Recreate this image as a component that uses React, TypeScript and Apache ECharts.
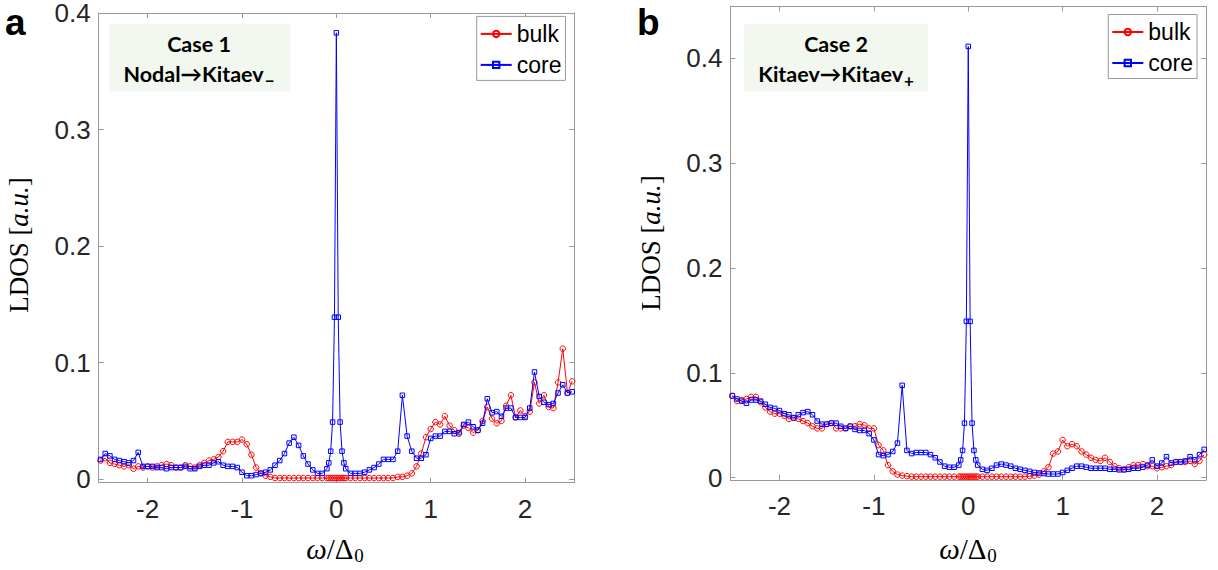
import React, { useEffect, useRef } from 'react';
import * as echarts from 'echarts';

// energy grid ω/Δ0 (coarse 0.05 steps, finer near zero)
const xs = [
  -2.5, -2.45, -2.4, -2.35, -2.3, -2.25, -2.2, -2.15, -2.1, -2.05,
  -2, -1.95, -1.9, -1.85, -1.8, -1.75, -1.7, -1.65, -1.6, -1.55,
  -1.5, -1.45, -1.4, -1.35, -1.3, -1.25, -1.2, -1.15, -1.1, -1.05,
  -1, -0.95, -0.9, -0.85, -0.8, -0.75, -0.7, -0.65, -0.6, -0.55,
  -0.5, -0.45, -0.4, -0.35, -0.3, -0.25, -0.2, -0.15,
  -0.1, -0.08, -0.06, -0.04, -0.02, 0, 0.02, 0.04, 0.06, 0.08, 0.1,
  0.15, 0.2, 0.25, 0.3, 0.35, 0.4, 0.45, 0.5, 0.55, 0.6,
  0.65, 0.7, 0.75, 0.8, 0.85, 0.9, 0.95, 1, 1.05, 1.1,
  1.15, 1.2, 1.25, 1.3, 1.35, 1.4, 1.45, 1.5, 1.55, 1.6,
  1.65, 1.7, 1.75, 1.8, 1.85, 1.9, 1.95, 2, 2.05, 2.1,
  2.15, 2.2, 2.25, 2.3, 2.35, 2.4, 2.45, 2.5,
];

// Panel a (Case 1)
const bulkA = [
  0.016, 0.018, 0.014, 0.013, 0.012, 0.011, 0.012, 0.009, 0.011, 0.010,
  0.011, 0.010, 0.011, 0.012, 0.013, 0.012, 0.010, 0.010, 0.012, 0.011,
  0.010, 0.012, 0.014, 0.016, 0.017, 0.019, 0.024, 0.032, 0.032, 0.032,
  0.034, 0.030, 0.021, 0.010, 0.005, 0.003, 0.002, 0.001, 0.001, 0.001,
  0.001, 0.001, 0.001, 0.001, 0.001, 0.001, 0.001, 0.001,
  0.001, 0.001, 0.001, 0.001, 0.001, 0.001, 0.001, 0.001, 0.001, 0.001, 0.001,
  0.001, 0.001, 0.001, 0.001, 0.001, 0.001, 0.001, 0.001, 0.001, 0.001,
  0.002, 0.002, 0.003, 0.005, 0.011, 0.022, 0.036, 0.043, 0.049, 0.047,
  0.054, 0.046, 0.042, 0.039, 0.046, 0.044, 0.040, 0.042, 0.050, 0.062,
  0.052, 0.048, 0.050, 0.063, 0.072, 0.053, 0.059, 0.054, 0.058, 0.083,
  0.065, 0.072, 0.062, 0.061, 0.083, 0.112, 0.074, 0.084,
];
const coreA = [
  0.017, 0.022, 0.020, 0.017, 0.016, 0.015, 0.014, 0.016, 0.023, 0.011,
  0.011, 0.011, 0.010, 0.010, 0.009, 0.010, 0.010, 0.010, 0.011, 0.009,
  0.009, 0.011, 0.012, 0.012, 0.014, 0.015, 0.012, 0.011, 0.011, 0.010,
  0.006, 0.003, 0.003, 0.004, 0.005, 0.006, 0.008, 0.012, 0.016, 0.022,
  0.031, 0.036, 0.029, 0.020, 0.013, 0.008, 0.005, 0.005,
  0.009, 0.014, 0.024, 0.049, 0.139, 0.383, 0.139, 0.049, 0.024, 0.014, 0.009,
  0.005, 0.005, 0.005, 0.006, 0.008, 0.010, 0.013, 0.017, 0.017, 0.017,
  0.024, 0.072, 0.037, 0.024, 0.018, 0.018, 0.021, 0.035, 0.037, 0.037,
  0.041, 0.041, 0.039, 0.040, 0.047, 0.049, 0.045, 0.042, 0.048, 0.069,
  0.057, 0.058, 0.054, 0.061, 0.061, 0.053, 0.053, 0.053, 0.061, 0.092,
  0.071, 0.066, 0.064, 0.065, 0.074, 0.081, 0.074, 0.075,
];

// Panel b (Case 2)
const bulkB = [
  0.078, 0.073, 0.074, 0.075, 0.077, 0.077, 0.072, 0.067, 0.063, 0.061,
  0.061, 0.059, 0.056, 0.057, 0.056, 0.054, 0.052, 0.049, 0.047, 0.047,
  0.051, 0.052, 0.047, 0.047, 0.047, 0.049, 0.049, 0.051, 0.050, 0.047,
  0.047, 0.031, 0.026, 0.012, 0.006, 0.003, 0.002, 0.0015, 0.001, 0.001,
  0.001, 0.001, 0.001, 0.001, 0.001, 0.001, 0.001, 0.001,
  0.001, 0.001, 0.001, 0.001, 0.001, 0.001, 0.001, 0.001, 0.001, 0.001, 0.001,
  0.001, 0.001, 0.001, 0.001, 0.001, 0.001, 0.001, 0.001, 0.001, 0.001,
  0.0015, 0.002, 0.003, 0.006, 0.010, 0.023, 0.025, 0.036, 0.030, 0.032,
  0.030, 0.025, 0.022, 0.019, 0.017, 0.016, 0.019, 0.015, 0.011, 0.009,
  0.008, 0.010, 0.012, 0.012, 0.013, 0.011, 0.011, 0.009, 0.010, 0.011,
  0.012, 0.015, 0.015, 0.015, 0.016, 0.013, 0.016, 0.022,
];
const coreB = [
  0.078, 0.075, 0.073, 0.071, 0.074, 0.074, 0.073, 0.070, 0.067, 0.066,
  0.064, 0.061, 0.060, 0.057, 0.060, 0.062, 0.063, 0.060, 0.054, 0.051,
  0.051, 0.052, 0.052, 0.049, 0.047, 0.049, 0.046, 0.045, 0.045, 0.042,
  0.036, 0.022, 0.021, 0.022, 0.025, 0.033, 0.088, 0.026, 0.023, 0.024,
  0.024, 0.024, 0.022, 0.019, 0.015, 0.011, 0.010, 0.010,
  0.012, 0.017, 0.026, 0.052, 0.149, 0.411, 0.149, 0.052, 0.026, 0.017, 0.012,
  0.008, 0.007, 0.009, 0.012, 0.013, 0.012, 0.011, 0.009, 0.008, 0.007,
  0.006, 0.005, 0.0045, 0.004, 0.0035, 0.0035, 0.0035, 0.005, 0.007, 0.009,
  0.011, 0.011, 0.010, 0.009, 0.009, 0.009, 0.009, 0.008, 0.008, 0.0075,
  0.0075, 0.008, 0.009, 0.009, 0.010, 0.012, 0.017, 0.011, 0.014, 0.020,
  0.014, 0.015, 0.015, 0.016, 0.020, 0.017, 0.022, 0.027,
];

const xTicks = [-2, -1, 0, 1, 2];
const yTicks = [0, 0.1, 0.2, 0.3, 0.4];
const seriesNames = ['bulk', 'core'];
const panelLetters = ['a', 'b'];
const caseTitles = ['Case 1', 'Case 2'];
const caseFrom = ['Nodal→Kitaev', 'Kitaev→Kitaev'];
const caseSub = ['−', '+'];

const RED = '#ff0000';
const BLUE = '#0000ff';
const AXIS = '#9a9a9a';
const LABEL = '#262626';
const SANS = 'Liberation Sans, Arial, sans-serif';
const SERIF = 'Liberation Serif, Times New Roman, serif';

const pairs = (vals: number[]) => xs.map((x, i) => [x, vals[i]]);

export default function App() {
  const ref = useRef<HTMLDivElement>(null);

  useEffect(() => {
    if (!ref.current) return;
    const chart = echarts.init(ref.current, undefined, { renderer: 'svg' });

    const grids = [
      { left: 98.6, top: 8, width: 475.5, height: 474.7 },
      { left: 730.4, top: 6.5, width: 475.7, height: 473.3 },
    ];
    const yMax = [0.4, 0.449];
    const yMin = [-0.003, -0.002];

    const xAxes: any[] = [];
    const yAxes: any[] = [];
    grids.forEach((_, gi) => {
      const common = {
        type: 'value',
        gridIndex: gi,
        axisLine: { show: true, onZero: false, lineStyle: { color: AXIS, width: 1 } },
        splitLine: { show: false },
      };
      const labelCommon = {
        fontSize: 26,
        fontFamily: SANS,
        color: LABEL,
      };
      xAxes.push({
        ...common,
        position: 'bottom',
        min: -2.52,
        max: 2.52,
        axisTick: { show: true, inside: true, length: 5, customValues: xTicks, lineStyle: { color: AXIS } },
        axisLabel: {
          ...labelCommon,
          show: true,
          customValues: xTicks,
          margin: 13,
          formatter: (v: number) => String(v),
        },
      });
      xAxes.push({
        ...common,
        position: 'top',
        min: -2.52,
        max: 2.52,
        axisTick: { show: true, inside: true, length: 5, customValues: xTicks, lineStyle: { color: AXIS } },
        axisLabel: { show: false },
      });
      yAxes.push({
        ...common,
        position: 'left',
        min: yMin[gi],
        max: yMax[gi],
        axisTick: { show: true, inside: true, length: 5, customValues: yTicks, lineStyle: { color: AXIS } },
        axisLabel: {
          ...labelCommon,
          show: true,
          customValues: yTicks,
          margin: 8,
          formatter: (v: number) => (v === 0 ? '0' : String(Math.round(v * 10) / 10)),
        },
      });
      yAxes.push({
        ...common,
        position: 'right',
        min: yMin[gi],
        max: yMax[gi],
        axisTick: { show: true, inside: true, length: 5, customValues: yTicks, lineStyle: { color: AXIS } },
        axisLabel: { show: false },
      });
    });

    const mk = (name: string, vals: number[], gi: number, color: string, symbol: string, size: number) => ({
      name,
      type: 'line',
      xAxisIndex: gi * 2,
      yAxisIndex: gi * 2,
      data: pairs(vals),
      symbol,
      symbolSize: size,
      showAllSymbol: true,
      color,
      lineStyle: { color, width: 1 },
      itemStyle: { color: 'rgba(255,255,255,0)', borderColor: color, borderWidth: 1 },
      emphasis: { disabled: true },
      z: color === BLUE ? 3 : 2,
    });

    const series = [
      mk('bulk', bulkA, 0, RED, 'circle', 5.5),
      mk('core', coreA, 0, BLUE, 'rect', 4.5),
      mk('bulk', bulkB, 1, RED, 'circle', 5.5),
      mk('core', coreB, 1, BLUE, 'rect', 4.5),
    ];

    const legendCommon = {
      orient: 'vertical',
      itemWidth: 31,
      itemHeight: 8,
      itemGap: 8,
      padding: [6, 4, 4, 3],
      borderColor: AXIS,
      borderWidth: 1,
      backgroundColor: '#ffffff',
      selectedMode: false,
      textStyle: { fontSize: 23, fontFamily: SANS, color: '#000' },
      data: seriesNames,
    };
    const legend = [
      { ...legendCommon, left: 476.7, top: 16.4 },
      { ...legendCommon, left: 1108.3, top: 14.5 },
    ];

    const boxes = [
      { x: 108.9, y: 24, w: 181.8, h: 67.6, cx: 199 },
      { x: 744.2, y: 24, w: 183.6, h: 67.6, cx: 836 },
    ];
    const annFont = 'Lato, Open Sans, sans-serif';
    const graphic: any[] = [];
    boxes.forEach((b, i) => {
      graphic.push({
        type: 'rect',
        shape: { x: b.x, y: b.y, width: b.w, height: b.h },
        style: { fill: '#f2f7ef' },
        z: 1,
      });
      graphic.push({
        type: 'text',
        x: b.cx,
        y: 44,
        z: 5,
        style: {
          text: caseTitles[i],
          fontSize: 21.5,
          fontWeight: 'bold',
          fontFamily: annFont,
          fill: '#000',
          textAlign: 'center',
          textVerticalAlign: 'middle',
          align: 'center',
          verticalAlign: 'middle',
        },
      });
      graphic.push({
        type: 'text',
        x: b.cx,
        y: 74,
        z: 5,
        style: {
          text: `{m|${caseFrom[i]}}{s|${caseSub[i]}}`,
          fill: '#000',
          textAlign: 'center',
          textVerticalAlign: 'middle',
          align: 'center',
          verticalAlign: 'middle',
          rich: {
            m: { fontSize: 21.5, fontWeight: 'bold', fontFamily: annFont, fill: '#000' },
            s: { fontSize: 17, fontWeight: 'bold', fontFamily: annFont, fill: '#000', padding: [12, 0, 0, 1] },
          },
        },
      });
    });

    // panel letters
    const letterX = [5, 637];
    panelLetters.forEach((l, i) => {
      graphic.push({
        type: 'text',
        x: letterX[i],
        y: 22,
        z: 5,
        style: {
          text: l,
          fontSize: 37,
          fontWeight: 'bold',
          fontFamily: SANS,
          fill: '#000',
          textAlign: 'left',
          textVerticalAlign: 'middle',
          align: 'left',
          verticalAlign: 'middle',
        },
      });
    });

    // axis names
    const yNameX = [19, 651];
    const yNameY = [245, 243];
    const xNameX = [335, 968];
    [0, 1].forEach((i) => {
      graphic.push({
        type: 'text',
        x: yNameX[i],
        y: yNameY[i],
        rotation: Math.PI / 2,
        z: 5,
        style: {
          text: '{r|LDOS [}{i|a.u.}{r|]}',
          fill: '#000',
          textAlign: 'center',
          textVerticalAlign: 'middle',
          align: 'center',
          verticalAlign: 'middle',
          rich: {
            r: { fontSize: 27, fontFamily: SERIF, fill: '#000' },
            i: { fontSize: 27, fontFamily: SERIF, fontStyle: 'italic', fill: '#000' },
          },
        },
      });
      graphic.push({
        type: 'text',
        x: xNameX[i],
        y: 549,
        z: 5,
        style: {
          text: '{i|ω}{r|/Δ}{s|0}',
          fill: '#000',
          textAlign: 'center',
          textVerticalAlign: 'middle',
          align: 'center',
          verticalAlign: 'middle',
          rich: {
            i: { fontSize: 29, fontFamily: SERIF, fontStyle: 'italic', fill: '#000' },
            r: { fontSize: 29, fontFamily: SERIF, fill: '#000' },
            s: { fontSize: 19, fontFamily: SERIF, fill: '#000', padding: [12, 0, 0, 1] },
          },
        },
      });
    });

    chart.setOption({
      animation: false,
      backgroundColor: '#ffffff',
      grid: grids,
      xAxis: xAxes,
      yAxis: yAxes,
      legend,
      series,
      graphic,
    });

    return () => chart.dispose();
  }, []);

  return (
    <div
      ref={ref}
      style={{ position: 'absolute', left: 0, top: 0, width: 1218, height: 570 }}
    />
  );
}
